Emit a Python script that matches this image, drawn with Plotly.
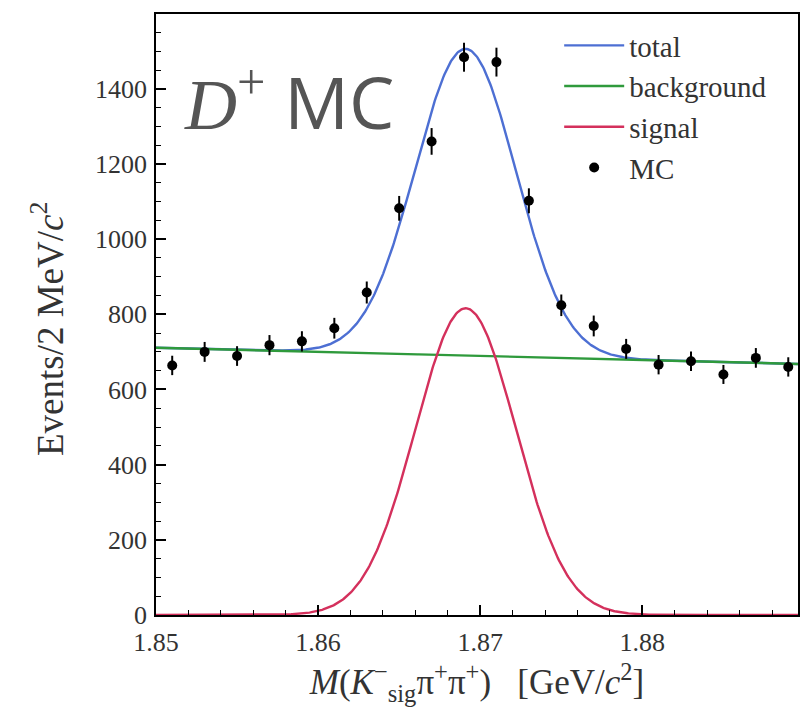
import numpy as np
import plotly.graph_objects as go

# ---- data ----
mass_bins = [1.851, 1.853, 1.855, 1.857, 1.859, 1.861, 1.863, 1.865, 1.867, 1.869,
             1.871, 1.873, 1.875, 1.877, 1.879, 1.881, 1.883, 1.885, 1.887, 1.889]
mc_counts = [664, 700, 689, 718, 728, 763, 858, 1082, 1260, 1484,
             1471, 1102, 824, 769, 708, 666, 675, 640, 684, 660]
mc_errors = [25.8, 26.5, 26.2, 26.8, 27.0, 27.6, 29.3, 32.9, 35.5, 38.5,
             38.4, 33.2, 28.7, 27.7, 26.6, 25.8, 26.0, 25.3, 26.2, 25.7]

# fit model parameters (Gaussian signal + linear background)
sig_mean = 1.8691
sig_sigma = 0.0031
sig_peak = 816.0
bkg_at_low = 711.0      # background value at x = 1.85
bkg_slope = -1086.0     # events per GeV/c^2

x_lo, x_hi = 1.85, 1.8896
xgrid = np.linspace(x_lo, x_hi, 600)
signal = sig_peak * np.exp(-0.5 * ((xgrid - sig_mean) / sig_sigma) ** 2)
background = bkg_at_low + bkg_slope * (xgrid - x_lo)
total = signal + background

serif = "Liberation Serif"
blue = "#4d6fd3"
green = "#2f9a3c"
red = "#d4305c"
txt = "#333333"

fig = go.Figure()
fig.add_trace(go.Scatter(x=xgrid, y=total, mode="lines", name="total",
                         line=dict(color=blue, width=2.4), legendgroup="a"))
fig.add_trace(go.Scatter(x=xgrid, y=background, mode="lines", name="background",
                         line=dict(color=green, width=2.4), legendgroup="b"))
fig.add_trace(go.Scatter(x=xgrid, y=signal, mode="lines", name="signal",
                         line=dict(color=red, width=2.4), legendgroup="c"))
fig.add_trace(go.Scatter(x=mass_bins, y=mc_counts, mode="markers", name="MC",
                         marker=dict(color="black", size=10),
                         error_y=dict(type="data", array=mc_errors, visible=True,
                                      color="black", thickness=2, width=0),
                         legendgroup="d"))

axis_common = dict(
    showline=True, linecolor="black", linewidth=1.5, mirror=True,
    ticks="inside", ticklen=10, tickwidth=1.5, tickcolor="black",
    showgrid=False, zeroline=False,
    tickfont=dict(family=serif, size=26, color=txt),
)

fig.update_layout(
    width=800, height=711,
    margin=dict(l=156, r=0, t=14, b=96),
    paper_bgcolor="white", plot_bgcolor="white",
    font=dict(family=serif, color=txt),
    showlegend=True,
    legend=dict(x=0.628, y=0.99, xanchor="left", yanchor="top",
                font=dict(family=serif, size=29, color=txt),
                bgcolor="rgba(0,0,0,0)", tracegroupgap=0, itemwidth=60),
    xaxis=dict(range=[x_lo, x_hi], tick0=1.85, dtick=0.01,
               minor=dict(dtick=0.002, ticks="inside", ticklen=5, tickwidth=1.2, tickcolor="black"),
               ticklabelstandoff=3,
               title=dict(text="<i>M</i>(<i>K</i><sup>−</sup><sub>sig</sub>π<sup>+</sup>π<sup>+</sup>)&#160;&#160;&#160;[GeV/<i>c</i><sup>2</sup>]",
                          font=dict(family=serif, size=35, color=txt), standoff=14),
               **axis_common),
    yaxis=dict(range=[0, 1599], tick0=0, dtick=200,
               minor=dict(dtick=50, ticks="inside", ticklen=5, tickwidth=1.2, tickcolor="black"),
               ticklabelstandoff=2,
               **axis_common),
)

# y-axis title placed as a rotated annotation to match the reference position
fig.add_annotation(
    xref="paper", yref="paper", x=-0.169, y=0.475, xanchor="center", yanchor="middle",
    text="Events/2 MeV/<i>c</i><sup>2</sup>", textangle=-90, showarrow=False,
    font=dict(family=serif, size=37, color=txt),
)

fig.add_annotation(
    xref="paper", yref="paper", x=0.04, y=0.856, xanchor="left", yanchor="middle",
    text="<span style='font-family:Liberation Serif'><i>D</i><sup>+</sup></span> MC",
    showarrow=False,
    font=dict(family="Open Sans", size=72, color="#555555"),
)

fig.write_html("out.html")
